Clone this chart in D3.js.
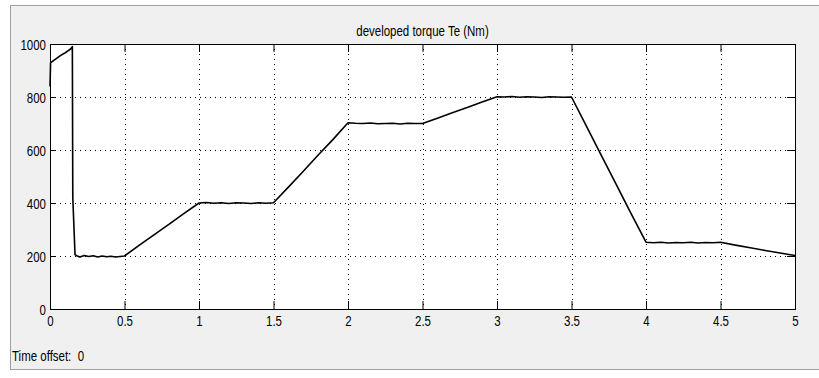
<!DOCTYPE html>
<html>
<head>
<meta charset="utf-8">
<script src="https://cdn.jsdelivr.net/npm/d3@7"></script>
<style>
  html, body { margin: 0; padding: 0; background: #ffffff; }
  svg { display: block; }
  text { font-family: "Liberation Sans", Arial, sans-serif; fill: #000; }
</style>
</head>
<body>
<svg id="scope" width="819" height="378"></svg>
<script>
// Scope trace: developed torque over 5 s of simulation
const timeS = [
  0.000, 0.004, 0.020, 0.040, 0.060, 0.080, 0.100, 0.120, 0.140, 0.150, 0.153,
  0.168, 0.180, 0.200, 0.230, 0.260, 0.290, 0.320, 0.350, 0.380, 0.410, 0.440, 0.470, 0.500,
  0.600, 0.700, 0.800, 0.900, 1.000,
  1.050, 1.100, 1.150, 1.200, 1.250, 1.300, 1.350, 1.400, 1.450, 1.500,
  1.600, 1.700, 1.800, 1.900, 2.000,
  2.050, 2.100, 2.150, 2.200, 2.250, 2.300, 2.350, 2.400, 2.450, 2.500,
  2.600, 2.700, 2.800, 2.900, 3.000,
  3.050, 3.100, 3.150, 3.200, 3.250, 3.300, 3.350, 3.400, 3.450, 3.500,
  3.600, 3.700, 3.800, 3.900, 4.000,
  4.050, 4.100, 4.150, 4.200, 4.250, 4.300, 4.350, 4.400, 4.450, 4.500,
  4.600, 4.700, 4.800, 4.900, 5.000
];
const torqueNm = [
  840, 930, 936, 944, 952, 960, 966, 974, 982, 990, 420,
  205, 201, 196, 202, 198, 201, 196, 200, 197, 199, 196, 198, 200,
  241, 281, 320, 361, 400,
  402, 399, 401, 398, 401, 400, 398, 401, 399, 401,
  460, 520, 581, 640, 703,
  701, 700, 702, 699, 700, 701, 698, 701, 700, 700,
  720, 741, 760, 781, 801,
  800, 802, 799, 801, 800, 798, 801, 800, 799, 800,
  690, 580, 470, 360, 252,
  250, 252, 249, 251, 250, 252, 249, 251, 250, 252,
  241, 231, 221, 211, 202
];
const xTicks = [0, 0.5, 1, 1.5, 2, 2.5, 3, 3.5, 4, 4.5, 5];
const yTicks = [0, 200, 400, 600, 800, 1000];
const chartTitle = "developed torque Te (Nm)";
const offsetLabel = "Time offset:  0";

const svg = d3.select("#scope");
const W = 819, H = 378;
const plot = { left: 50, top: 44, right: 795, bottom: 309 };
const FONT = 14, SQUEEZE = 0.82;   // condensed scope lettering

// place a horizontally squeezed text label at (px, py)
function label(parent, px, py, str, anchor) {
  return parent.append("text")
    .attr("transform", `translate(${px},${py}) scale(${SQUEEZE},1)`)
    .attr("text-anchor", anchor || "start")
    .attr("font-size", FONT)
    .attr("xml:space", "preserve").style("white-space", "pre")
    .text(str);
}

// window panel
svg.append("rect").attr("x", 0).attr("y", 0).attr("width", W).attr("height", H).attr("fill", "#ffffff");
svg.append("rect")
  .attr("x", 10.5).attr("y", 5.5).attr("width", W).attr("height", 364)
  .attr("fill", "#f0f0f0").attr("stroke", "#a0a0a0").attr("stroke-width", 1);

const x = d3.scaleLinear().domain([0, 5]).range([plot.left, plot.right]);
const y = d3.scaleLinear().domain([0, 1000]).range([plot.bottom, plot.top]);

// axes background
svg.append("rect")
  .attr("x", plot.left).attr("y", plot.top)
  .attr("width", plot.right - plot.left).attr("height", plot.bottom - plot.top)
  .attr("fill", "#ffffff");

// dotted grid
const grid = svg.append("g").attr("stroke", "#000").attr("stroke-width", 1).attr("stroke-dasharray", "1,4");
grid.selectAll("line.v").data(xTicks.slice(1, -1)).join("line")
  .attr("x1", d => Math.round(x(d)) + 0.5).attr("x2", d => Math.round(x(d)) + 0.5)
  .attr("y1", plot.top).attr("y2", plot.bottom);
grid.selectAll("line.h").data(yTicks.slice(1, -1)).join("line")
  .attr("x1", plot.left).attr("x2", plot.right)
  .attr("y1", d => Math.round(y(d)) + 0.5).attr("y2", d => Math.round(y(d)) + 0.5);

// axes with inward ticks; labels are redrawn squeezed below
const axisStyle = g => {
  g.select(".domain").remove();
  g.selectAll(".tick line").attr("stroke", "#000").attr("stroke-width", 1);
  g.selectAll(".tick text").remove();
};
const fmtX = d3.format("~g"), fmtY = d3.format("d");
svg.append("g").attr("transform", `translate(0,${plot.bottom})`)
  .call(d3.axisBottom(x).tickValues(xTicks).tickSizeInner(-8).tickSizeOuter(0))
  .call(axisStyle)
  .call(g => g.selectAll(".tick").each(function (d) {
    label(d3.select(this), 0, 17, fmtX(d), "middle");
  }));
svg.append("g").attr("transform", `translate(${plot.left},0)`)
  .call(d3.axisLeft(y).tickValues(yTicks).tickSizeInner(-6).tickSizeOuter(0))
  .call(axisStyle)
  .call(g => g.selectAll(".tick").each(function (d) {
    label(d3.select(this), -4, 5, fmtY(d), "end");
  }));
svg.append("g").attr("transform", `translate(0,${plot.top})`)
  .call(d3.axisTop(x).tickValues(xTicks).tickSizeInner(-8).tickSizeOuter(0))
  .call(axisStyle);
svg.append("g").attr("transform", `translate(${plot.right},0)`)
  .call(d3.axisRight(y).tickValues(yTicks).tickSizeInner(-8).tickSizeOuter(0))
  .call(axisStyle);

// axes box
svg.append("rect")
  .attr("x", plot.left + 0.5).attr("y", plot.top + 0.5)
  .attr("width", plot.right - plot.left).attr("height", plot.bottom - plot.top)
  .attr("fill", "none").attr("stroke", "#000").attr("stroke-width", 1);

// torque trace
const line = d3.line().x(d => x(d[0])).y(d => y(d[1]));
svg.append("path")
  .datum(d3.zip(timeS, torqueNm))
  .attr("d", line)
  .attr("fill", "none").attr("stroke", "#000").attr("stroke-width", 1.6)
  .attr("stroke-linejoin", "round");

// title and footer
label(svg, (plot.left + plot.right) / 2, 36, chartTitle, "middle");
label(svg, 12, 361, offsetLabel, "start");
</script>
</body>
</html>
